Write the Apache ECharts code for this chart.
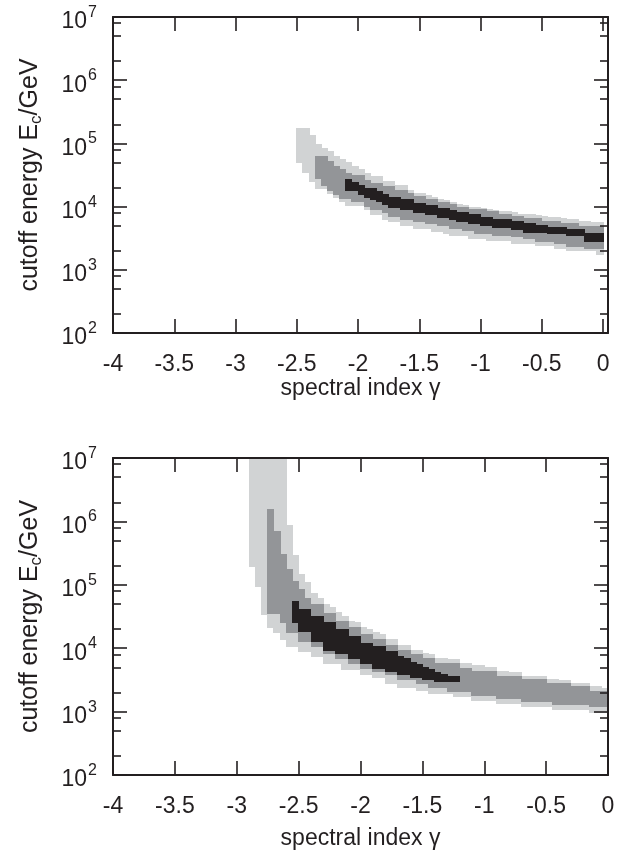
<!DOCTYPE html>
<html>
<head>
<meta charset="utf-8">
<script src="https://cdn.jsdelivr.net/npm/echarts@6/dist/echarts.min.js"></script>
<style>html,body{margin:0;padding:0;background:#fff}#c{width:639px;height:860px}</style>
</head>
<body>
<div id="c"></div>
<script>
// ---------- DATA (log10 of cutoff energy in GeV, per 0.05-wide column of spectral index) ----------
const topGamma = [-2.5,-2.45,-2.4,-2.35,-2.3,-2.25,-2.2,-2.15,-2.1,-2.05,-2,-1.95,-1.9,-1.85,-1.8,-1.75,-1.7,-1.65,-1.6,-1.55,-1.5,-1.45,-1.4,-1.35,-1.3,-1.25,-1.2,-1.15,-1.1,-1.05,-1,-0.95,-0.9,-0.85,-0.8,-0.75,-0.7,-0.65,-0.6,-0.55,-0.5,-0.45,-0.4,-0.35,-0.3,-0.25,-0.2,-0.15,-0.1,-0.05];
const topLightHi = [5.24,5.24,5.13,4.98,4.92,4.87,4.79,4.74,4.69,4.63, 4.59,4.53,4.48,4.48,4.40,4.40,4.34,4.34,4.26,4.21, 4.21,4.17,4.15,4.11,4.10,4.06,4.03,4.01,3.99,3.99, 3.97,3.96,3.94,3.92,3.92,3.90,3.88,3.87,3.87,3.86, 3.84,3.83,3.82,3.81,3.80,3.79,3.77,3.76,3.75,3.75];
const topLightLo = [4.70,4.54,4.40,4.29,4.29,4.21,4.15,4.08,4.01,4.01, 4.01,3.95,3.87,3.87,3.79,3.76,3.76,3.70,3.70,3.66, 3.66,3.66,3.61,3.61,3.58,3.55,3.55,3.55,3.50,3.50, 3.50,3.46,3.46,3.46,3.46,3.42,3.42,3.42,3.42,3.38, 3.38,3.38,3.34,3.34,3.31,3.31,3.31,3.31,3.31,3.25];
const topMidHi = [null,null,null,4.79,4.79,4.71,4.63,4.58,4.53,4.49, 4.49,4.42,4.37,4.37,4.32,4.32,4.26,4.26,4.20,4.16, 4.16,4.11,4.11,4.06,4.06,4.03,3.99,3.99,3.95,3.95, 3.95,3.92,3.92,3.88,3.88,3.84,3.84,3.81,3.81,3.81, 3.76,3.76,3.76,3.73,3.73,3.73,3.69,3.69,3.69,3.69];
const topMidLo = [null,null,null,4.45,4.34,4.25,4.19,4.13,4.13,4.08, 4.08,4.00,3.95,3.95,3.90,3.85,3.85,3.79,3.79,3.76, 3.76,3.73,3.73,3.70,3.70,3.66,3.66,3.62,3.62,3.58, 3.58,3.58,3.54,3.54,3.54,3.52,3.52,3.49,3.49,3.45, 3.45,3.45,3.41,3.41,3.37,3.37,3.37,3.34,3.34,3.34];
const topDarkHi = [null,null,null,null,null,null,null,null,4.43,4.38, 4.34,4.29,4.29,4.24,4.19,4.15,4.15,4.11,4.11,4.05, 4.05,4.01,4.01,3.97,3.97,3.94,3.90,3.90,3.87,3.87, 3.83,3.83,3.80,3.80,3.80,3.76,3.76,3.73,3.73,3.70, 3.70,3.67,3.67,3.67,3.63,3.63,3.63,3.58,3.58,3.58];
const topDarkLo = [null,null,null,null,null,null,null,null,4.26,4.26, 4.19,4.15,4.11,4.08,4.03,3.99,3.99,3.95,3.95,3.91, 3.91,3.87,3.87,3.83,3.83,3.79,3.76,3.76,3.73,3.73, 3.70,3.70,3.67,3.67,3.67,3.63,3.63,3.59,3.59,3.59, 3.59,3.57,3.57,3.57,3.54,3.54,3.54,3.45,3.45,3.45];

const botGamma = [-2.9,-2.85,-2.8,-2.75,-2.7,-2.65,-2.6,-2.55,-2.5,-2.45,-2.4,-2.35,-2.3,-2.25,-2.2,-2.15,-2.1,-2.05,-2,-1.95,-1.9,-1.85,-1.8,-1.75,-1.7,-1.65,-1.6,-1.55,-1.5,-1.45,-1.4,-1.35,-1.3,-1.25,-1.2,-1.15,-1.1,-1.05,-1,-0.95,-0.9,-0.85,-0.8,-0.75,-0.7,-0.65,-0.6,-0.55,-0.5,-0.45,-0.4,-0.35,-0.3,-0.25,-0.2,-0.15,-0.1,-0.05];
const botLightHi = [7,7,7,7,7,7,5.93,5.47,5.17,5.04, 4.87,4.79,4.69,4.64,4.56,4.50,4.42,4.40,4.32,4.29, 4.24,4.21,4.13,4.13,4.05,4.05,3.97,3.97,3.92,3.90, 3.84,3.84,3.82,3.82,3.76,3.76,3.72,3.72,3.70,3.70, 3.63,3.63,3.61,3.61,3.56,3.56,3.55,3.55,3.50,3.50, 3.49,3.49,3.45,3.45,3.45,3.40,3.40,3.37];
const botLightLo = [5.29,4.97,4.53,4.32,4.24,4.13,4.03,4.03,3.95,3.95, 3.87,3.87,3.76,3.76,3.76,3.66,3.66,3.66,3.58,3.58, 3.53,3.53,3.45,3.45,3.38,3.38,3.38,3.34,3.34,3.29, 3.29,3.29,3.29,3.24,3.24,3.24,3.18,3.18,3.18,3.18, 3.13,3.13,3.13,3.13,3.08,3.08,3.08,3.08,3.08,3.04, 3.04,3.04,3.04,3.04,3.04,2.98,2.98,2.98];
const botMidHi = [null,null,null,6.19,5.84,5.48,5.24,5.05,4.92,4.79, 4.69,4.69,4.55,4.55,4.42,4.42,4.32,4.32,4.21,4.21, 4.13,4.13,4.05,4.05,3.97,3.97,3.90,3.90,3.84,3.84, 3.76,3.76,3.76,3.76,3.68,3.68,3.63,3.63,3.63,3.63, 3.55,3.55,3.55,3.55,3.50,3.50,3.50,3.50,3.45,3.45, 3.45,3.45,3.40,3.40,3.40,3.32,3.32,3.32];
const botMidLo = [null,null,null,4.55,4.55,4.40,4.24,4.24,4.11,4.11, 4.03,4.03,3.92,3.92,3.84,3.84,3.76,3.76,3.68,3.68, 3.63,3.63,3.58,3.58,3.50,3.50,3.50,3.45,3.45,3.38, 3.38,3.38,3.32,3.32,3.32,3.32,3.25,3.25,3.25,3.25, 3.20,3.20,3.20,3.20,3.16,3.16,3.16,3.16,3.16,3.11, 3.11,3.11,3.11,3.11,3.11,3.08,3.08,3.08];
const botDarkHi = [null,null,null,null,null,null,null,4.74,4.61,4.61, 4.50,4.50,4.40,4.40,4.29,4.29,4.19,4.19,4.08,4.08, 4.03,4.03,3.95,3.95,3.87,3.84,3.77,3.74,3.69,3.66, 3.61,3.58,3.56,3.55,null,null,null,null,null,null, null,null,null,null,null,null,null,null,null,null, null,null,null,null,null,null,null,null];
const botDarkLo = [null,null,null,null,null,null,null,4.40,4.26,4.26, 4.11,4.11,3.97,3.97,3.92,3.92,3.84,3.84,3.76,3.76, 3.68,3.68,3.63,3.63,3.58,3.58,3.53,3.53,3.50,3.50, 3.48,3.48,3.48,3.48,null,null,null,null,null,null, null,null,null,null,null,null,null,null,null,null, null,null,null,null,null,null,null,null];

// axis ticks
const xTicks = [-4,-3.5,-3,-2.5,-2,-1.5,-1,-0.5,0];
const yDecades = [2,3,4,5,6,7];
const yMinorFactors = [2,5,8];

// ---------- STYLE ----------
const BIN = 0.05;
const INK = '#231f20';
const C_LIGHT = '#d1d3d4', C_MID = '#939598', C_DARK = '#231f20';
const FONT = '"Liberation Sans", Arial, Helvetica, sans-serif';

function cells(gamma, lo, hi) {
  const out = [];
  for (let i = 0; i < gamma.length; i++) {
    if (lo[i] == null || hi[i] == null) continue;
    out.push([gamma[i], Math.pow(10, lo[i]), Math.pow(10, hi[i])]);
  }
  return out;
}
function renderCell(params, api) {
  const x0 = api.value(0);
  const a = api.coord([x0, api.value(2)]);
  const b = api.coord([x0 + BIN, api.value(1)]);
  const x = Math.floor(a[0]), y = Math.floor(a[1]);
  return {
    type: 'rect',
    shape: { x: x, y: y, width: Math.ceil(b[0]) - x, height: Math.ceil(b[1]) - y },
    style: { fill: api.visual('color') }
  };
}

const minorVals = [];
yDecades.slice(0, -1).forEach(d => yMinorFactors.forEach(f => minorVals.push(d + Math.log10(f))));

const panels = [
  { gamma: topGamma, xMax: 0.04, top: 17, height: 316, nameGap: 40,
    light: [topLightLo, topLightHi], mid: [topMidLo, topMidHi], dark: [topDarkLo, topDarkHi] },
  { gamma: botGamma, xMax: 0, top: 458, height: 317, nameGap: 52,
    light: [botLightLo, botLightHi], mid: [botMidLo, botMidHi], dark: [botDarkLo, botDarkHi] }
];

const grid = [], xAxis = [], yAxis = [], series = [];
const lineStyle = { color: INK, width: 2 };
const tickStyle = { color: INK, width: 1.6 };

panels.forEach((p, g) => {
  grid.push({ left: 113, width: 495, top: p.top, height: p.height });
  const xBase = {
    type: 'value', gridIndex: g, min: -4, max: p.xMax, interval: 0.5, z: 5,
    splitLine: { show: false },
    axisLine: { show: true, onZero: false, lineStyle: lineStyle },
    axisTick: { show: true, inside: true, length: 14, lineStyle: tickStyle }
  };
  xAxis.push(Object.assign({}, xBase, {
    position: 'bottom',
    axisLabel: {
      show: true, margin: 20, fontSize: 23, color: INK, fontFamily: FONT,
      showMaxLabel: p.xMax === 0,
      formatter: v => (xTicks.indexOf(Math.round(v * 100) / 100) >= 0 ? String(Math.round(v * 100) / 100) : '')
    },
    name: 'spectral index γ', nameLocation: 'middle', nameGap: p.nameGap,
    nameTextStyle: { fontSize: 23, color: INK, fontFamily: FONT }
  }));
  xAxis.push(Object.assign({}, xBase, { position: 'top', axisLabel: { show: false } }));

  // hidden log axis that carries the data
  yAxis.push({ type: 'log', logBase: 10, gridIndex: g, min: 100, max: 1e7, show: false });
  const yBase = {
    type: 'value', gridIndex: g, min: 2, max: 7, interval: 1, z: 5,
    splitLine: { show: false }
  };
  yAxis.push(Object.assign({}, yBase, {
    position: 'left',
    axisLine: { show: true, onZero: false, lineStyle: lineStyle },
    axisTick: { show: true, inside: true, length: 14, lineStyle: tickStyle },
    axisLabel: {
      show: true, margin: 16, color: INK, fontFamily: FONT,
      formatter: v => '{b|10}{s|' + v + '}',
      rich: {
        b: { fontSize: 23, fontFamily: FONT, color: INK, padding: [10, 0, 0, 0] },
        s: { fontSize: 16, fontFamily: FONT, color: INK, padding: [0, 0, 9, 1] }
      }
    },
    name: '{a|cutoff energy E}{c|c}{a|/GeV}', nameLocation: 'middle', nameRotate: 90, nameGap: 68,
    nameTextStyle: {
      color: INK, fontFamily: FONT, fontSize: 25,
      rich: {
        a: { fontSize: 25, fontFamily: FONT, color: INK },
        c: { fontSize: 17, fontFamily: FONT, color: INK, padding: [12, 0, 0, 0] }
      }
    }
  }));
  yAxis.push(Object.assign({}, yBase, {
    position: 'left',
    axisLine: { show: false, onZero: false },
    axisTick: { show: true, inside: true, length: 8, lineStyle: tickStyle, customValues: minorVals },
    axisLabel: { show: false }
  }));
  yAxis.push(Object.assign({}, yBase, {
    position: 'right',
    axisLine: { show: true, onZero: false, lineStyle: lineStyle },
    axisTick: { show: true, inside: true, length: 14, lineStyle: tickStyle },
    axisLabel: { show: false }
  }));
  yAxis.push(Object.assign({}, yBase, {
    position: 'right',
    axisLine: { show: false, onZero: false },
    axisTick: { show: true, inside: true, length: 8, lineStyle: tickStyle, customValues: minorVals },
    axisLabel: { show: false }
  }));

  [[p.light, C_LIGHT], [p.mid, C_MID], [p.dark, C_DARK]].forEach(([lv, col]) => {
    series.push({
      type: 'custom', xAxisIndex: 2 * g, yAxisIndex: 5 * g, clip: true,
      itemStyle: { color: col }, renderItem: renderCell,
      encode: { x: 0, y: [1, 2] },
      data: cells(p.gamma, lv[0], lv[1])
    });
  });
});

const chart = echarts.init(document.getElementById('c'));
chart.setOption({ animation: false, backgroundColor: '#fff', grid, xAxis, yAxis, series });
</script>
</body>
</html>
